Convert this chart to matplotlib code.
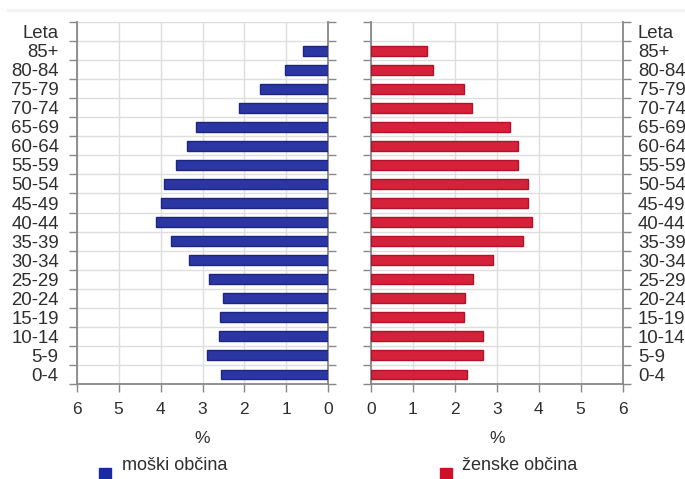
import numpy as np
import matplotlib
matplotlib.use("Agg")
import matplotlib.pyplot as plt
from matplotlib.patches import Rectangle
from matplotlib.lines import Line2D

plt.rcParams['font.family'] = ['Liberation Sans', 'DejaVu Sans']

age_groups = ['0-4', '5-9', '10-14', '15-19', '20-24', '25-29', '30-34', '35-39',
              '40-44', '45-49', '50-54', '55-59', '60-64', '65-69', '70-74',
              '75-79', '80-84', '85+', 'Leta']
male = [2.57, 2.90, 2.60, 2.58, 2.52, 2.85, 3.33, 3.74, 4.10, 3.99, 3.92,
        3.64, 3.36, 3.16, 2.12, 1.63, 1.03, 0.60]
female = [2.30, 2.67, 2.67, 2.21, 2.24, 2.44, 2.92, 3.62, 3.83, 3.74, 3.75,
          3.50, 3.50, 3.32, 2.42, 2.22, 1.49, 1.34]
xticks = [0, 1, 2, 3, 4, 5, 6]

W, H = 685, 479
fig = plt.figure(figsize=(W / 100, H / 100), dpi=100)

grid_c = '#dedede'
spine_c = '#888888'
txt_c = '#2e2e2e'

ax_m = fig.add_axes([76.7 / W, 1 - 384 / H, 251.6 / W, 362 / H])
ax_f = fig.add_axes([371 / W, 1 - 384 / H, 251.6 / W, 362 / H])

rows = np.arange(len(age_groups))

def style(ax, label_side):
    ax.set_ylim(-0.5, len(age_groups) - 0.5)
    ax.set_xticks(xticks)
    ax.set_xticklabels([str(t) for t in xticks])
    ax.set_yticks(rows)
    ax.set_yticklabels(age_groups)
    ax.set_yticks(np.arange(len(age_groups) + 1) - 0.5, minor=True)
    ax.grid(True, which='minor', axis='y', color=grid_c, lw=1, zorder=0)
    ax.grid(True, which='major', axis='x', color=grid_c, lw=1, zorder=0)
    ax.set_axisbelow(True)
    ax.tick_params(axis='y', which='major', length=0, labelsize=13.4,
                   labelcolor=txt_c, pad=(13 if label_side == 'left' else 11),
                   left=False, right=False,
                   labelleft=(label_side == 'left'),
                   labelright=(label_side == 'right'))
    ax.tick_params(axis='y', which='minor', length=6, color=spine_c,
                   width=1, left=True, right=True)
    ax.tick_params(axis='x', length=6, color=spine_c, width=1,
                   labelsize=12.5, labelcolor=txt_c, pad=7)
    ax.spines['top'].set_visible(False)
    for s in ['left', 'right', 'bottom']:
        ax.spines[s].set_color(spine_c)
        ax.spines[s].set_linewidth(1.3)
    ax.set_xlabel('%', fontsize=12.5, color=txt_c, labelpad=10)

ax_m.barh(rows[:len(male)], male, height=0.52, color='#2b36a3',
          edgecolor='#1c2580', linewidth=1, zorder=3)
ax_m.set_xlim(6, 0)
style(ax_m, 'left')

ax_f.barh(rows[:len(female)], female, height=0.52, color='#d5213a',
          edgecolor='#b3122a', linewidth=1, zorder=3)
ax_f.set_xlim(0, 6)
style(ax_f, 'right')

# faint line at top of the frame
fig.add_artist(Line2D([8 / W, 1], [1 - 10 / H] * 2, color='#f3f3f3', lw=2.5))

# legend
fig.add_artist(Rectangle((99 / W, 0), 12 / W, 11 / H, color='#1a2aa0',
                         transform=fig.transFigure))
fig.text(122 / W, 1 - 466 / H, 'moški občina', fontsize=13, color=txt_c,
         va='center', ha='left')
fig.add_artist(Rectangle((440 / W, 0), 12 / W, 11 / H, color='#d0102a',
                         transform=fig.transFigure))
fig.text(462 / W, 1 - 466 / H, 'ženske občina', fontsize=13, color=txt_c,
         va='center', ha='left')

fig.savefig('out.png', dpi=100)
